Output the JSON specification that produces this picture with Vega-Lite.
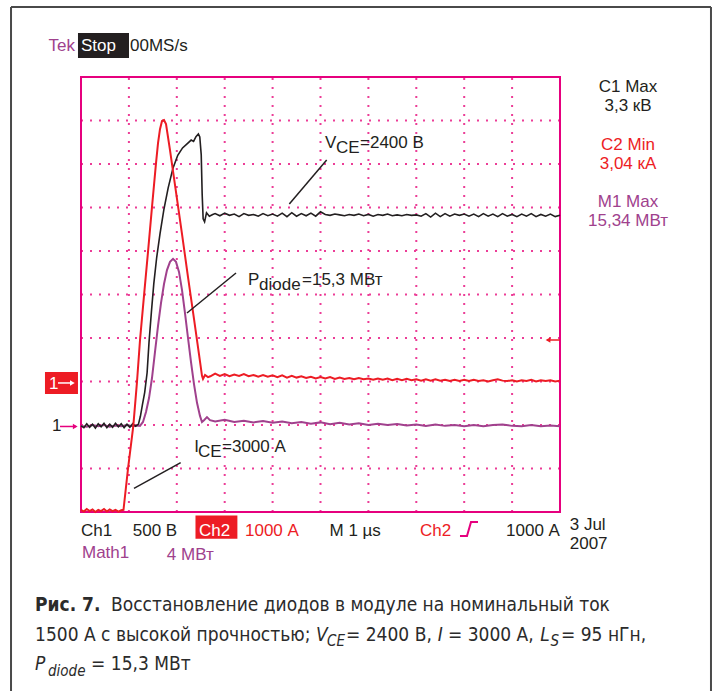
{
  "$schema": "https://vega.github.io/schema/vega-lite/v6.json",
  "width": 714,
  "height": 691,
  "autosize": "none",
  "padding": 0,
  "background": "white",
  "config": {"view": {"stroke": null}},
  "datasets": {
    "border": [
      {"x": -1.461, "y": 11.609, "x2": 13.152, "y2": 11.609},
      {"x": -1.461, "y": 11.609, "x2": -1.461, "y2": -4.3},
      {"x": 13.152, "y": 11.609, "x2": 13.152, "y2": -4.3}
    ],
    "grid": [
      {"x": 1, "y": 0, "x2": 1, "y2": 10}, {"x": 2, "y": 0, "x2": 2, "y2": 10}, {"x": 3, "y": 0, "x2": 3, "y2": 10},
      {"x": 4, "y": 0, "x2": 4, "y2": 10}, {"x": 5, "y": 0, "x2": 5, "y2": 10}, {"x": 6, "y": 0, "x2": 6, "y2": 10},
      {"x": 7, "y": 0, "x2": 7, "y2": 10}, {"x": 8, "y": 0, "x2": 8, "y2": 10}, {"x": 9, "y": 0, "x2": 9, "y2": 10},
      {"x": 0, "y": 1, "x2": 10, "y2": 1}, {"x": 0, "y": 2, "x2": 10, "y2": 2}, {"x": 0, "y": 3, "x2": 10, "y2": 3},
      {"x": 0, "y": 4, "x2": 10, "y2": 4}, {"x": 0, "y": 5, "x2": 10, "y2": 5}, {"x": 0, "y": 6, "x2": 10, "y2": 6},
      {"x": 0, "y": 7, "x2": 10, "y2": 7}, {"x": 0, "y": 8, "x2": 10, "y2": 8}, {"x": 0, "y": 9, "x2": 10, "y2": 9}
    ],
    "frame": [{"x": 0, "y": 0, "x2": 10, "y2": 10}],
    "boxes": [
      {"x": -0.063, "x2": 1.002, "y": 11.01, "y2": 10.437, "g": "ch1"},
      {"x": 2.39, "x2": 3.265, "y": -0.078, "y2": -0.614, "g": "ch2"},
      {"x": -0.752, "x2": -0.063, "y": 3.218, "y2": 2.713, "g": "ch2"}
    ],
    "rules": [
      {"x": 5.129, "y": 8.092, "x2": 4.349, "y2": 7.08, "g": "ch1"},
      {"x": 3.236, "y": 5.494, "x2": 2.213, "y2": 4.575, "g": "ch1"},
      {"x": 2.081, "y": 1.133, "x2": 1.106, "y2": 0.545, "g": "ch1"},
      {"x": -0.438, "y": 1.966, "x2": -0.104, "y2": 1.966, "g": "scope"},
      {"x": -0.48, "y": 2.966, "x2": -0.167, "y2": 2.966, "g": "inv"},
      {"x": 9.729, "y": 3.954, "x2": 10.0, "y2": 3.954, "g": "ch2"}
    ],
    "heads": [
      {"x": -0.12, "y": 1.966, "g": "scope", "d": "r"},
      {"x": -0.18, "y": 2.966, "g": "inv", "d": "r"},
      {"x": 9.75, "y": 3.954, "g": "ch2", "d": "l"}
    ],
    "trigger": [
      {"x": 7.912, "y": -0.552}, {"x": 8.058, "y": -0.552}, {"x": 8.142, "y": -0.23}, {"x": 8.288, "y": -0.23}
    ],
    "traces": [
      {"g": "math", "x": 0, "y": 1.98}, {"g": "math", "x": 0.12, "y": 1.96}, {"g": "math", "x": 0.24, "y": 2.0},
      {"g": "math", "x": 0.36, "y": 1.97}, {"g": "math", "x": 0.48, "y": 2.0}, {"g": "math", "x": 0.6, "y": 1.96},
      {"g": "math", "x": 0.72, "y": 1.99}, {"g": "math", "x": 0.84, "y": 1.97}, {"g": "math", "x": 0.96, "y": 2.0},
      {"g": "math", "x": 1.08, "y": 1.97}, {"g": "math", "x": 1.2, "y": 1.99},
      {"g": "math", "x": 1.232, "y": 1.98}, {"g": "math", "x": 1.294, "y": 2.07}, {"g": "math", "x": 1.357, "y": 2.3},
      {"g": "math", "x": 1.42, "y": 2.62}, {"g": "math", "x": 1.482, "y": 3.08}, {"g": "math", "x": 1.545, "y": 3.68},
      {"g": "math", "x": 1.608, "y": 4.28}, {"g": "math", "x": 1.67, "y": 4.8}, {"g": "math", "x": 1.733, "y": 5.24},
      {"g": "math", "x": 1.795, "y": 5.56}, {"g": "math", "x": 1.858, "y": 5.75}, {"g": "math", "x": 1.921, "y": 5.82},
      {"g": "math", "x": 1.983, "y": 5.75}, {"g": "math", "x": 2.046, "y": 5.52}, {"g": "math", "x": 2.109, "y": 5.1},
      {"g": "math", "x": 2.171, "y": 4.57}, {"g": "math", "x": 2.234, "y": 4.0}, {"g": "math", "x": 2.296, "y": 3.45},
      {"g": "math", "x": 2.359, "y": 2.94}, {"g": "math", "x": 2.422, "y": 2.51}, {"g": "math", "x": 2.484, "y": 2.21},
      {"g": "math", "x": 2.526, "y": 2.07}, {"g": "math", "x": 2.568, "y": 2.11}, {"g": "math", "x": 2.63, "y": 2.18},
      {"g": "math", "x": 2.693, "y": 2.11},
      {"g": "math", "x": 2.8, "y": 2.08}, {"g": "math", "x": 3.0, "y": 2.12}, {"g": "math", "x": 3.2, "y": 2.07},
      {"g": "math", "x": 3.4, "y": 2.1}, {"g": "math", "x": 3.6, "y": 2.06}, {"g": "math", "x": 3.8, "y": 2.09},
      {"g": "math", "x": 4.0, "y": 2.05}, {"g": "math", "x": 4.2, "y": 2.08}, {"g": "math", "x": 4.4, "y": 2.04},
      {"g": "math", "x": 4.6, "y": 2.07}, {"g": "math", "x": 4.8, "y": 2.03}, {"g": "math", "x": 5.0, "y": 2.06},
      {"g": "math", "x": 5.2, "y": 2.02}, {"g": "math", "x": 5.4, "y": 2.05}, {"g": "math", "x": 5.6, "y": 2.01},
      {"g": "math", "x": 5.8, "y": 2.04}, {"g": "math", "x": 6.0, "y": 2.0}, {"g": "math", "x": 6.2, "y": 2.03},
      {"g": "math", "x": 6.4, "y": 2.0}, {"g": "math", "x": 6.6, "y": 2.02}, {"g": "math", "x": 6.8, "y": 1.99},
      {"g": "math", "x": 7.0, "y": 2.01}, {"g": "math", "x": 7.2, "y": 1.98}, {"g": "math", "x": 7.4, "y": 2.01},
      {"g": "math", "x": 7.6, "y": 1.98}, {"g": "math", "x": 7.8, "y": 2.0}, {"g": "math", "x": 8.0, "y": 1.97},
      {"g": "math", "x": 8.2, "y": 2.0}, {"g": "math", "x": 8.4, "y": 1.97}, {"g": "math", "x": 8.6, "y": 2.0},
      {"g": "math", "x": 8.8, "y": 2.01}, {"g": "math", "x": 9.0, "y": 1.98}, {"g": "math", "x": 9.2, "y": 1.97},
      {"g": "math", "x": 9.4, "y": 2.0}, {"g": "math", "x": 9.6, "y": 1.97}, {"g": "math", "x": 9.8, "y": 1.99},
      {"g": "math", "x": 10.0, "y": 1.97},

      {"g": "ch1", "x": 0, "y": 1.98}, {"g": "ch1", "x": 0.06, "y": 1.94}, {"g": "ch1", "x": 0.12, "y": 2.03},
      {"g": "ch1", "x": 0.18, "y": 1.95}, {"g": "ch1", "x": 0.24, "y": 2.02}, {"g": "ch1", "x": 0.3, "y": 1.93},
      {"g": "ch1", "x": 0.36, "y": 2.03}, {"g": "ch1", "x": 0.42, "y": 1.96}, {"g": "ch1", "x": 0.48, "y": 2.04},
      {"g": "ch1", "x": 0.54, "y": 1.94}, {"g": "ch1", "x": 0.6, "y": 2.02}, {"g": "ch1", "x": 0.66, "y": 1.95},
      {"g": "ch1", "x": 0.72, "y": 2.04}, {"g": "ch1", "x": 0.78, "y": 1.96}, {"g": "ch1", "x": 0.84, "y": 2.03},
      {"g": "ch1", "x": 0.9, "y": 1.94}, {"g": "ch1", "x": 0.96, "y": 2.02}, {"g": "ch1", "x": 1.02, "y": 1.95},
      {"g": "ch1", "x": 1.08, "y": 2.03}, {"g": "ch1", "x": 1.14, "y": 1.97},
      {"g": "ch1", "x": 1.2, "y": 2.02}, {"g": "ch1", "x": 1.24, "y": 2.2}, {"g": "ch1", "x": 1.28, "y": 2.45},
      {"g": "ch1", "x": 1.33, "y": 2.75}, {"g": "ch1", "x": 1.38, "y": 3.2}, {"g": "ch1", "x": 1.42, "y": 3.9},
      {"g": "ch1", "x": 1.47, "y": 4.6}, {"g": "ch1", "x": 1.52, "y": 5.25}, {"g": "ch1", "x": 1.58, "y": 5.85},
      {"g": "ch1", "x": 1.65, "y": 6.4}, {"g": "ch1", "x": 1.73, "y": 6.95}, {"g": "ch1", "x": 1.82, "y": 7.45},
      {"g": "ch1", "x": 1.92, "y": 7.9}, {"g": "ch1", "x": 2.02, "y": 8.2}, {"g": "ch1", "x": 2.12, "y": 8.37},
      {"g": "ch1", "x": 2.22, "y": 8.47}, {"g": "ch1", "x": 2.3, "y": 8.55}, {"g": "ch1", "x": 2.35, "y": 8.52},
      {"g": "ch1", "x": 2.4, "y": 8.63}, {"g": "ch1", "x": 2.45, "y": 8.69}, {"g": "ch1", "x": 2.48, "y": 8.62},
      {"g": "ch1", "x": 2.51, "y": 8.21}, {"g": "ch1", "x": 2.53, "y": 7.29}, {"g": "ch1", "x": 2.55, "y": 6.74},
      {"g": "ch1", "x": 2.58, "y": 6.67}, {"g": "ch1", "x": 2.62, "y": 6.88}, {"g": "ch1", "x": 2.68, "y": 6.8},
      {"g": "ch1", "x": 2.75, "y": 6.84}, {"g": "ch1", "x": 2.8, "y": 6.86}, {"g": "ch1", "x": 2.9, "y": 6.81},
      {"g": "ch1", "x": 3.0, "y": 6.87}, {"g": "ch1", "x": 3.1, "y": 6.82}, {"g": "ch1", "x": 3.2, "y": 6.85},
      {"g": "ch1", "x": 3.3, "y": 6.79}, {"g": "ch1", "x": 3.4, "y": 6.86}, {"g": "ch1", "x": 3.5, "y": 6.82},
      {"g": "ch1", "x": 3.6, "y": 6.84}, {"g": "ch1", "x": 3.7, "y": 6.8}, {"g": "ch1", "x": 3.8, "y": 6.86},
      {"g": "ch1", "x": 3.9, "y": 6.81}, {"g": "ch1", "x": 4.0, "y": 6.85}, {"g": "ch1", "x": 4.1, "y": 6.8},
      {"g": "ch1", "x": 4.2, "y": 6.87}, {"g": "ch1", "x": 4.3, "y": 6.79}, {"g": "ch1", "x": 4.4, "y": 6.88},
      {"g": "ch1", "x": 4.5, "y": 6.8}, {"g": "ch1", "x": 4.6, "y": 6.86}, {"g": "ch1", "x": 4.7, "y": 6.81},
      {"g": "ch1", "x": 4.8, "y": 6.87}, {"g": "ch1", "x": 4.9, "y": 6.8}, {"g": "ch1", "x": 5.0, "y": 6.9},
      {"g": "ch1", "x": 5.1, "y": 6.84}, {"g": "ch1", "x": 5.2, "y": 6.82}, {"g": "ch1", "x": 5.3, "y": 6.85},
      {"g": "ch1", "x": 5.4, "y": 6.83}, {"g": "ch1", "x": 5.5, "y": 6.81}, {"g": "ch1", "x": 5.6, "y": 6.84},
      {"g": "ch1", "x": 5.7, "y": 6.82}, {"g": "ch1", "x": 5.8, "y": 6.85}, {"g": "ch1", "x": 5.9, "y": 6.81},
      {"g": "ch1", "x": 6.0, "y": 6.84}, {"g": "ch1", "x": 6.1, "y": 6.8}, {"g": "ch1", "x": 6.2, "y": 6.84},
      {"g": "ch1", "x": 6.3, "y": 6.82}, {"g": "ch1", "x": 6.4, "y": 6.85}, {"g": "ch1", "x": 6.5, "y": 6.81},
      {"g": "ch1", "x": 6.6, "y": 6.83}, {"g": "ch1", "x": 6.7, "y": 6.81}, {"g": "ch1", "x": 6.8, "y": 6.84},
      {"g": "ch1", "x": 6.9, "y": 6.82}, {"g": "ch1", "x": 7.0, "y": 6.83}, {"g": "ch1", "x": 7.1, "y": 6.8},
      {"g": "ch1", "x": 7.2, "y": 6.86}, {"g": "ch1", "x": 7.3, "y": 6.78}, {"g": "ch1", "x": 7.4, "y": 6.87},
      {"g": "ch1", "x": 7.5, "y": 6.79}, {"g": "ch1", "x": 7.6, "y": 6.86}, {"g": "ch1", "x": 7.7, "y": 6.8},
      {"g": "ch1", "x": 7.8, "y": 6.85}, {"g": "ch1", "x": 7.9, "y": 6.82}, {"g": "ch1", "x": 8.0, "y": 6.85},
      {"g": "ch1", "x": 8.1, "y": 6.8}, {"g": "ch1", "x": 8.2, "y": 6.85}, {"g": "ch1", "x": 8.3, "y": 6.79},
      {"g": "ch1", "x": 8.4, "y": 6.86}, {"g": "ch1", "x": 8.5, "y": 6.8}, {"g": "ch1", "x": 8.6, "y": 6.85},
      {"g": "ch1", "x": 8.7, "y": 6.79}, {"g": "ch1", "x": 8.8, "y": 6.86}, {"g": "ch1", "x": 8.9, "y": 6.8},
      {"g": "ch1", "x": 9.0, "y": 6.84}, {"g": "ch1", "x": 9.1, "y": 6.79}, {"g": "ch1", "x": 9.2, "y": 6.85},
      {"g": "ch1", "x": 9.3, "y": 6.8}, {"g": "ch1", "x": 9.4, "y": 6.86}, {"g": "ch1", "x": 9.5, "y": 6.79},
      {"g": "ch1", "x": 9.6, "y": 6.84}, {"g": "ch1", "x": 9.7, "y": 6.8}, {"g": "ch1", "x": 9.8, "y": 6.85},
      {"g": "ch1", "x": 9.9, "y": 6.79}, {"g": "ch1", "x": 10.0, "y": 6.82},

      {"g": "ch2", "x": 0, "y": 0.05}, {"g": "ch2", "x": 0.06, "y": 0.01}, {"g": "ch2", "x": 0.12, "y": 0.07},
      {"g": "ch2", "x": 0.18, "y": 0.02}, {"g": "ch2", "x": 0.24, "y": 0.06}, {"g": "ch2", "x": 0.3, "y": 0.0},
      {"g": "ch2", "x": 0.36, "y": 0.05}, {"g": "ch2", "x": 0.42, "y": 0.02}, {"g": "ch2", "x": 0.48, "y": 0.07},
      {"g": "ch2", "x": 0.54, "y": 0.01}, {"g": "ch2", "x": 0.6, "y": 0.06}, {"g": "ch2", "x": 0.66, "y": 0.02},
      {"g": "ch2", "x": 0.72, "y": 0.05}, {"g": "ch2", "x": 0.78, "y": 0.01}, {"g": "ch2", "x": 0.84, "y": 0.04},
      {"g": "ch2", "x": 0.887, "y": 0.05}, {"g": "ch2", "x": 0.981, "y": 0.99}, {"g": "ch2", "x": 1.092, "y": 1.98},
      {"g": "ch2", "x": 1.169, "y": 2.99}, {"g": "ch2", "x": 1.232, "y": 3.95}, {"g": "ch2", "x": 1.315, "y": 4.97},
      {"g": "ch2", "x": 1.399, "y": 5.98}, {"g": "ch2", "x": 1.482, "y": 7.01}, {"g": "ch2", "x": 1.566, "y": 8.02},
      {"g": "ch2", "x": 1.608, "y": 8.48}, {"g": "ch2", "x": 1.649, "y": 8.8}, {"g": "ch2", "x": 1.691, "y": 8.99},
      {"g": "ch2", "x": 1.733, "y": 9.01}, {"g": "ch2", "x": 1.775, "y": 8.92}, {"g": "ch2", "x": 1.858, "y": 8.32},
      {"g": "ch2", "x": 1.983, "y": 7.36}, {"g": "ch2", "x": 2.109, "y": 6.39}, {"g": "ch2", "x": 2.234, "y": 5.4},
      {"g": "ch2", "x": 2.359, "y": 4.44}, {"g": "ch2", "x": 2.463, "y": 3.63}, {"g": "ch2", "x": 2.526, "y": 3.13},
      {"g": "ch2", "x": 2.547, "y": 3.06}, {"g": "ch2", "x": 2.589, "y": 3.15}, {"g": "ch2", "x": 2.651, "y": 3.1},
      {"g": "ch2", "x": 2.7, "y": 3.12}, {"g": "ch2", "x": 2.8, "y": 3.18}, {"g": "ch2", "x": 2.9, "y": 3.13},
      {"g": "ch2", "x": 3.0, "y": 3.17}, {"g": "ch2", "x": 3.1, "y": 3.12}, {"g": "ch2", "x": 3.2, "y": 3.16},
      {"g": "ch2", "x": 3.3, "y": 3.13}, {"g": "ch2", "x": 3.4, "y": 3.17}, {"g": "ch2", "x": 3.5, "y": 3.12},
      {"g": "ch2", "x": 3.6, "y": 3.15}, {"g": "ch2", "x": 3.7, "y": 3.11}, {"g": "ch2", "x": 3.8, "y": 3.15},
      {"g": "ch2", "x": 3.9, "y": 3.11}, {"g": "ch2", "x": 4.0, "y": 3.14}, {"g": "ch2", "x": 4.1, "y": 3.1},
      {"g": "ch2", "x": 4.2, "y": 3.14}, {"g": "ch2", "x": 4.3, "y": 3.09}, {"g": "ch2", "x": 4.4, "y": 3.13},
      {"g": "ch2", "x": 4.5, "y": 3.09}, {"g": "ch2", "x": 4.6, "y": 3.12}, {"g": "ch2", "x": 4.7, "y": 3.08},
      {"g": "ch2", "x": 4.8, "y": 3.11}, {"g": "ch2", "x": 4.9, "y": 3.07}, {"g": "ch2", "x": 5.0, "y": 3.1},
      {"g": "ch2", "x": 5.1, "y": 3.07}, {"g": "ch2", "x": 5.2, "y": 3.1}, {"g": "ch2", "x": 5.3, "y": 3.06},
      {"g": "ch2", "x": 5.4, "y": 3.09}, {"g": "ch2", "x": 5.5, "y": 3.06}, {"g": "ch2", "x": 5.6, "y": 3.08},
      {"g": "ch2", "x": 5.7, "y": 3.05}, {"g": "ch2", "x": 5.8, "y": 3.08}, {"g": "ch2", "x": 5.9, "y": 3.05},
      {"g": "ch2", "x": 6.0, "y": 3.07}, {"g": "ch2", "x": 6.1, "y": 3.04}, {"g": "ch2", "x": 6.2, "y": 3.07},
      {"g": "ch2", "x": 6.3, "y": 3.04}, {"g": "ch2", "x": 6.4, "y": 3.07}, {"g": "ch2", "x": 6.5, "y": 3.03},
      {"g": "ch2", "x": 6.6, "y": 3.06}, {"g": "ch2", "x": 6.7, "y": 3.03}, {"g": "ch2", "x": 6.8, "y": 3.06},
      {"g": "ch2", "x": 6.9, "y": 3.03}, {"g": "ch2", "x": 7.0, "y": 3.05}, {"g": "ch2", "x": 7.1, "y": 3.02},
      {"g": "ch2", "x": 7.2, "y": 3.05}, {"g": "ch2", "x": 7.3, "y": 3.02}, {"g": "ch2", "x": 7.4, "y": 3.05},
      {"g": "ch2", "x": 7.5, "y": 3.02}, {"g": "ch2", "x": 7.6, "y": 3.04}, {"g": "ch2", "x": 7.7, "y": 3.01},
      {"g": "ch2", "x": 7.8, "y": 3.04}, {"g": "ch2", "x": 7.9, "y": 3.01}, {"g": "ch2", "x": 8.0, "y": 3.04},
      {"g": "ch2", "x": 8.1, "y": 3.01}, {"g": "ch2", "x": 8.2, "y": 3.04}, {"g": "ch2", "x": 8.3, "y": 3.01},
      {"g": "ch2", "x": 8.4, "y": 3.03}, {"g": "ch2", "x": 8.5, "y": 3.0}, {"g": "ch2", "x": 8.6, "y": 3.03},
      {"g": "ch2", "x": 8.7, "y": 3.05}, {"g": "ch2", "x": 8.8, "y": 3.02}, {"g": "ch2", "x": 8.9, "y": 3.01},
      {"g": "ch2", "x": 9.0, "y": 3.03}, {"g": "ch2", "x": 9.1, "y": 3.0}, {"g": "ch2", "x": 9.2, "y": 3.03},
      {"g": "ch2", "x": 9.3, "y": 3.01}, {"g": "ch2", "x": 9.4, "y": 3.04}, {"g": "ch2", "x": 9.5, "y": 3.0},
      {"g": "ch2", "x": 9.6, "y": 3.03}, {"g": "ch2", "x": 9.7, "y": 3.01}, {"g": "ch2", "x": 9.8, "y": 3.03},
      {"g": "ch2", "x": 9.9, "y": 3.0}, {"g": "ch2", "x": 10.0, "y": 3.02}
    ],
    "scopeText": [
      {"x": -0.678, "y": 10.598, "t": "Tek", "g": "math"},
      {"x": 0.0, "y": 10.598, "t": "Stop", "g": "inv"},
      {"x": 1.023, "y": 10.598, "t": "00MS/s", "g": "ch1"},
      {"x": 0.0, "y": -0.547, "t": "Ch1", "g": "ch1"},
      {"x": 1.081, "y": -0.547, "t": "500 В", "g": "ch1"},
      {"x": 2.463, "y": -0.547, "t": "Ch2", "g": "inv"},
      {"x": 3.424, "y": -0.547, "t": "1000 А", "g": "ch2"},
      {"x": 5.188, "y": -0.547, "t": "M 1 µs", "g": "ch1"},
      {"x": 7.077, "y": -0.547, "t": "Ch2", "g": "ch2"},
      {"x": 8.873, "y": -0.547, "t": "1000 А", "g": "ch1"},
      {"x": 10.203, "y": -0.425, "t": "3 Jul", "g": "ch1"},
      {"x": 10.203, "y": -0.862, "t": "2007", "g": "ch1"},
      {"x": 0.021, "y": -1.067, "t": "Math1", "g": "math"},
      {"x": 1.791, "y": -1.103, "t": "4 МВт", "g": "math"},
      {"x": 5.094, "y": 8.375, "t": "V", "g": "ch1"},
      {"x": 5.324, "y": 8.264, "t": "CE", "g": "ch1"},
      {"x": 5.825, "y": 8.375, "t": "=2400 В", "g": "ch1"},
      {"x": 3.486, "y": 5.218, "t": "P", "g": "ch1"},
      {"x": 3.716, "y": 5.103, "t": "diode", "g": "ch1"},
      {"x": 4.614, "y": 5.218, "t": "=15,3 МВт", "g": "ch1"},
      {"x": 2.365, "y": 1.372, "t": "I", "g": "ch1"},
      {"x": 2.443, "y": 1.257, "t": "CE", "g": "ch1"},
      {"x": 2.944, "y": 1.372, "t": "=3000 А", "g": "ch1"},
      {"x": -0.605, "y": 1.862, "t": "1", "g": "ch1"},
      {"x": -0.668, "y": 2.828, "t": "1", "g": "inv"}
    ],
    "sideText": [
      {"x": 11.42, "y": 9.655, "t": "C1 Max", "g": "ch1"},
      {"x": 11.42, "y": 9.225, "t": "3,3 кВ", "g": "ch1"},
      {"x": 11.42, "y": 8.322, "t": "C2 Min", "g": "ch2"},
      {"x": 11.42, "y": 7.885, "t": "3,04 кА", "g": "ch2"},
      {"x": 11.42, "y": 7.018, "t": "M1 Max", "g": "math"},
      {"x": 11.42, "y": 6.582, "t": "15,34 МВт", "g": "math"}
    ],
    "capBold": [{"x": -0.96, "y": -2.276, "t": "Рис. 7."}],
    "capRegular": [
      {"x": 0.626, "y": -2.276, "t": "Восстановление диодов в модуле на номинальный ток"},
      {"x": -0.96, "y": -2.966, "t": "1500 А с высокой прочностью;"},
      {"x": 5.532, "y": -2.966, "t": "= 2400 В,"},
      {"x": 7.66, "y": -2.966, "t": "= 3000 А,"},
      {"x": 10.02, "y": -2.966, "t": "= 95 нГн,"},
      {"x": 0.209, "y": -3.632, "t": "= 15,3 МВт"}
    ],
    "capItalic": [
      {"x": 4.906, "y": -2.966, "t": "V"},
      {"x": 7.45, "y": -2.966, "t": "I"},
      {"x": 9.59, "y": -2.966, "t": "L"},
      {"x": -0.96, "y": -3.632, "t": "P"}
    ],
    "capSub": [
      {"x": 5.136, "y": -3.08, "t": "CE"},
      {"x": 9.8, "y": -3.08, "t": "S"},
      {"x": -0.689, "y": -3.76, "t": "diode"}
    ]
  },
  "encoding": {
    "x": {"field": "x", "type": "quantitative", "scale": {"domain": [-1.691, 13.215], "nice": false, "zero": false}, "axis": null},
    "y": {"field": "y", "type": "quantitative", "scale": {"domain": [-4.115, 11.77], "nice": false, "zero": false}, "axis": null}
  },
  "layer": [
    {
      "data": {"name": "border"},
      "mark": {"type": "rule", "color": "#4a4a4a", "strokeWidth": 2},
      "encoding": {"x2": {"field": "x2"}, "y2": {"field": "y2"}}
    },
    {
      "data": {"name": "grid"},
      "mark": {"type": "rule", "color": "#ec3d97", "strokeWidth": 2, "strokeDash": [2, 7]},
      "encoding": {"x2": {"field": "x2"}, "y2": {"field": "y2"}}
    },
    {
      "data": {"name": "frame"},
      "mark": {"type": "rect", "fill": null, "fillOpacity": 0, "stroke": "#e6007e", "strokeWidth": 2},
      "encoding": {"x2": {"field": "x2"}, "y2": {"field": "y2"}}
    },
    {
      "data": {"name": "boxes"},
      "mark": {"type": "rect"},
      "encoding": {
        "x2": {"field": "x2"}, "y2": {"field": "y2"},
        "color": {"field": "g", "type": "nominal", "legend": null,
          "scale": {"domain": ["ch1", "ch2", "math", "inv", "scope"], "range": ["#231f20", "#ed1c24", "#a0418d", "#ffffff", "#e6007e"]}}
      }
    },
    {
      "data": {"name": "traces"},
      "transform": [{"filter": "datum.g === 'math'"}],
      "mark": {"type": "line", "color": "#a0418d", "strokeWidth": 2},
      "encoding": {}
    },
    {
      "data": {"name": "traces"},
      "transform": [{"filter": "datum.g === 'ch1'"}],
      "mark": {"type": "line", "color": "#231f20", "strokeWidth": 1.6},
      "encoding": {}
    },
    {
      "data": {"name": "traces"},
      "transform": [{"filter": "datum.g === 'ch2'"}],
      "mark": {"type": "line", "color": "#ed1c24", "strokeWidth": 2},
      "encoding": {}
    },
    {
      "data": {"name": "rules"},
      "mark": {"type": "rule", "strokeWidth": 1.5},
      "encoding": {
        "x2": {"field": "x2"}, "y2": {"field": "y2"},
        "color": {"field": "g", "type": "nominal", "legend": null,
          "scale": {"domain": ["ch1", "ch2", "math", "inv", "scope"], "range": ["#231f20", "#ed1c24", "#a0418d", "#ffffff", "#e6007e"]}}
      }
    },
    {
      "data": {"name": "heads"},
      "mark": {"type": "point", "filled": true, "size": 30, "opacity": 1},
      "encoding": {
        "shape": {"field": "d", "type": "nominal", "legend": null, "scale": {"domain": ["r", "l"], "range": ["triangle-right", "triangle-left"]}},
        "color": {"field": "g", "type": "nominal", "legend": null,
          "scale": {"domain": ["ch1", "ch2", "math", "inv", "scope"], "range": ["#231f20", "#ed1c24", "#a0418d", "#ffffff", "#e6007e"]}}
      }
    },
    {
      "data": {"name": "trigger"},
      "mark": {"type": "line", "color": "#e6007e", "strokeWidth": 2},
      "encoding": {}
    },
    {
      "data": {"name": "scopeText"},
      "mark": {"type": "text", "align": "left", "baseline": "alphabetic", "font": "Liberation Sans", "fontSize": 17},
      "encoding": {
        "text": {"field": "t"},
        "color": {"field": "g", "type": "nominal", "legend": null,
          "scale": {"domain": ["ch1", "ch2", "math", "inv", "scope"], "range": ["#231f20", "#ed1c24", "#a0418d", "#ffffff", "#e6007e"]}}
      }
    },
    {
      "data": {"name": "sideText"},
      "mark": {"type": "text", "align": "center", "baseline": "alphabetic", "font": "Liberation Sans", "fontSize": 17},
      "encoding": {
        "text": {"field": "t"},
        "color": {"field": "g", "type": "nominal", "legend": null,
          "scale": {"domain": ["ch1", "ch2", "math", "inv", "scope"], "range": ["#231f20", "#ed1c24", "#a0418d", "#ffffff", "#e6007e"]}}
      }
    },
    {
      "data": {"name": "capBold"},
      "mark": {"type": "text", "align": "left", "baseline": "alphabetic", "font": "DejaVu Sans Condensed, Liberation Sans Narrow, Roboto Condensed, Roboto", "fontSize": 19, "fontWeight": "bold", "color": "#2b2b2b"},
      "encoding": {"text": {"field": "t"}}
    },
    {
      "data": {"name": "capRegular"},
      "mark": {"type": "text", "align": "left", "baseline": "alphabetic", "font": "DejaVu Sans Condensed, Liberation Sans Narrow, Roboto Condensed, Roboto", "fontSize": 19, "color": "#2b2b2b"},
      "encoding": {"text": {"field": "t"}}
    },
    {
      "data": {"name": "capItalic"},
      "mark": {"type": "text", "align": "left", "baseline": "alphabetic", "font": "DejaVu Sans Condensed, Liberation Sans Narrow, Roboto Condensed, Roboto", "fontSize": 19, "fontStyle": "italic", "color": "#2b2b2b"},
      "encoding": {"text": {"field": "t"}}
    },
    {
      "data": {"name": "capSub"},
      "mark": {"type": "text", "align": "left", "baseline": "alphabetic", "font": "DejaVu Sans Condensed, Liberation Sans Narrow, Roboto Condensed, Roboto", "fontSize": 15, "fontStyle": "italic", "color": "#2b2b2b"},
      "encoding": {"text": {"field": "t"}}
    }
  ]
}
